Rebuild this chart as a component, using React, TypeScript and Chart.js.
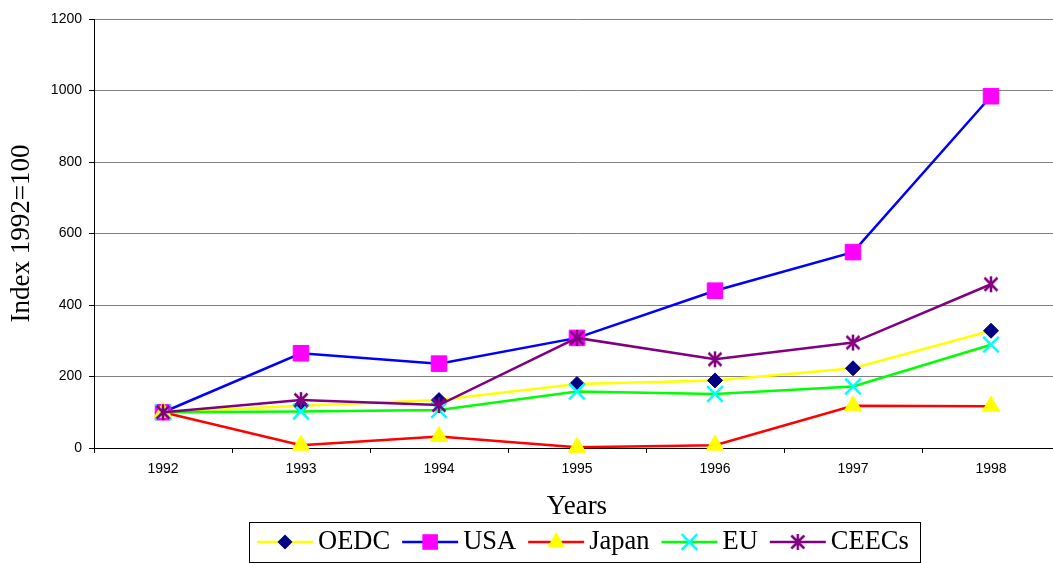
import React, { useEffect, useRef } from 'react';
import { Chart, registerables } from 'chart.js';

Chart.register(...registerables);

// ---- data ----
const years = ['1992', '1993', '1994', '1995', '1996', '1997', '1998'];
const oedc = [100, 118, 134, 179, 189, 223, 328];
const usa = [100, 265, 236, 308, 440, 548, 984];
const japan = [100, 8, 32, 2, 8, 118, 117];
const eu = [100, 102, 106, 158, 151, 172, 289];
const ceecs = [100, 134, 120, 308, 248, 295, 458];
const seriesNames = ['OEDC', 'USA', 'Japan', 'EU', 'CEECs'];
const yMin = 0;
const yMax = 1200;
const yStep = 200;
const xTitle = 'Years';
const yTitle = 'Index 1992=100';

// ---- styles ----
const lineColors = ['#FFFF00', '#0000FF', '#FF0000', '#00FF00', '#800080'];
const markerColors = ['#000080', '#FF00FF', '#FFFF00', '#00FFFF', '#800080'];
const markerStyles = ['rectRot', 'rect', 'triangle', 'crossRot', 'star'];
const markerRadii = [7.5, 11, 10, 11, 9];

function makeStar(color: string): HTMLCanvasElement {
  const c = document.createElement('canvas');
  c.width = 20;
  c.height = 20;
  const g = c.getContext('2d')!;
  g.strokeStyle = color;
  g.lineWidth = 2.5;
  g.beginPath();
  g.moveTo(10, 2);
  g.lineTo(10, 18);
  g.moveTo(3.5, 3.5);
  g.lineTo(16.5, 16.5);
  g.moveTo(16.5, 3.5);
  g.lineTo(3.5, 16.5);
  g.stroke();
  return c;
}

function drawMarker(ctx: CanvasRenderingContext2D, i: number, x: number, y: number, star: HTMLCanvasElement) {
  const r = markerRadii[i];
  const col = markerColors[i];
  ctx.save();
  ctx.fillStyle = col;
  ctx.strokeStyle = col;
  const s = markerStyles[i];
  ctx.beginPath();
  if (s === 'rectRot') {
    ctx.moveTo(x, y - r);
    ctx.lineTo(x + r, y);
    ctx.lineTo(x, y + r);
    ctx.lineTo(x - r, y);
    ctx.closePath();
    ctx.fill();
  } else if (s === 'rect') {
    const h = r * Math.SQRT1_2;
    ctx.rect(x - h, y - h, 2 * h, 2 * h);
    ctx.fill();
  } else if (s === 'triangle') {
    for (let k = 0; k < 3; k++) {
      const a = (k * 2 * Math.PI) / 3;
      const px = x + Math.sin(a) * r;
      const py = y - Math.cos(a) * r;
      if (k === 0) ctx.moveTo(px, py);
      else ctx.lineTo(px, py);
    }
    ctx.closePath();
    ctx.fill();
  } else if (s === 'crossRot') {
    const d = r * Math.SQRT1_2;
    ctx.lineWidth = 2.5;
    ctx.moveTo(x - d, y - d);
    ctx.lineTo(x + d, y + d);
    ctx.moveTo(x + d, y - d);
    ctx.lineTo(x - d, y + d);
    ctx.stroke();
  } else {
    ctx.drawImage(star, x - star.width / 2, y - star.height / 2);
  }
  ctx.restore();
}

export default function App() {
  const ref = useRef<HTMLCanvasElement>(null);

  useEffect(() => {
    const star = makeStar(markerColors[4]);
    const values = [oedc, usa, japan, eu, ceecs];

    const datasets = seriesNames.map((name, i) => ({
      label: name,
      data: values[i],
      borderColor: lineColors[i],
      backgroundColor: lineColors[i],
      borderWidth: 2.5,
      tension: 0,
      fill: false,
      pointStyle: (i === 4 ? star : markerStyles[i]) as any,
      pointRadius: markerRadii[i],
      pointHoverRadius: markerRadii[i],
      pointBackgroundColor: markerColors[i],
      pointBorderColor: markerColors[i],
      pointBorderWidth: markerStyles[i] === 'crossRot' ? 2.5 : 1,
      order: seriesNames.length - 1 - i,
      clip: false as any,
    }));

    const legendPlugin = {
      id: 'boxLegend',
      afterDraw(chart: any) {
        const ctx: CanvasRenderingContext2D = chart.ctx;
        ctx.save();
        ctx.font = '26.5px "Liberation Serif"';
        const lineLen = 56;
        const gapText = 5;
        const gapItem = 12;
        const padL = 8;
        const padR = 11;
        const widths = seriesNames.map((n) => ctx.measureText(n).width);
        let total = padL + padR + gapItem * (seriesNames.length - 1);
        widths.forEach((w) => (total += lineLen + gapText + w));
        const cx = 584.5;
        const boxTop = 522;
        const boxH = 40;
        const left = Math.round(cx - total / 2);
        const cy = boxTop + boxH / 2;
        ctx.strokeStyle = '#000';
        ctx.lineWidth = 1;
        ctx.strokeRect(left + 0.5, boxTop + 0.5, Math.round(total), boxH);
        let x = left + padL;
        ctx.textBaseline = 'middle';
        ctx.textAlign = 'left';
        seriesNames.forEach((n, i) => {
          ctx.strokeStyle = lineColors[i];
          ctx.lineWidth = 2.5;
          ctx.beginPath();
          ctx.moveTo(x, cy);
          ctx.lineTo(x + lineLen, cy);
          ctx.stroke();
          drawMarker(ctx, i, x + lineLen / 2, cy, star);
          ctx.fillStyle = '#000';
          ctx.fillText(n, x + lineLen + gapText, cy);
          x += lineLen + gapText + widths[i] + gapItem;
        });
        ctx.restore();
      },
    };

    const chart = new Chart(ref.current!, {
      type: 'line',
      data: { labels: years, datasets: datasets as any },
      plugins: [legendPlugin],
      options: {
        animation: false,
        responsive: false,
        maintainAspectRatio: false,
        layout: { padding: { top: 19, left: 0, right: 15, bottom: 40 } },
        plugins: { legend: { display: false }, tooltip: { enabled: false } },
        scales: {
          x: {
            type: 'category',
            offset: true,
            grid: {
              display: true,
              drawOnChartArea: false,
              drawTicks: true,
              tickLength: 5,
              tickColor: '#000',
              offset: true,
            },
            border: { display: true, color: '#000', width: 1 },
            ticks: {
              color: '#000',
              font: { family: 'Liberation Sans', size: 14 },
              padding: 8,
              maxRotation: 0,
              autoSkip: false,
            },
            title: {
              display: true,
              text: xTitle,
              color: '#000',
              font: { family: 'Liberation Serif', size: 27, weight: 'normal' },
              padding: 0,
            },
            afterFit: (s: any) => {
              s.height = 75;
            },
          },
          y: {
            min: yMin,
            max: yMax,
            grid: {
              color: (c: any) => (c.tick && c.tick.value === 0 ? '#000' : '#808080'),
              tickColor: '#000',
              tickLength: 5,
            },
            border: { display: true, color: '#000', width: 1 },
            ticks: {
              stepSize: yStep,
              color: '#000',
              font: { family: 'Liberation Sans', size: 14 },
              padding: 7,
              callback: (v: any) => String(v),
            },
            title: {
              display: true,
              text: yTitle,
              color: '#000',
              font: { family: 'Liberation Serif', size: 27, weight: 'normal' },
              padding: { top: 6, bottom: 0 },
            },
            afterFit: (s: any) => {
              s.width = 94;
            },
          },
        },
      } as any,
    });
    return () => chart.destroy();
  }, []);

  return (
    <div
      style={{
        position: 'fixed',
        left: 0,
        top: 0,
        width: 1053,
        height: 563,
        overflow: 'hidden',
        background: '#fff',
      }}
    >
      <canvas ref={ref} width={1075} height={563} style={{ display: 'block', width: 1075, height: 563 }} />
    </div>
  );
}
